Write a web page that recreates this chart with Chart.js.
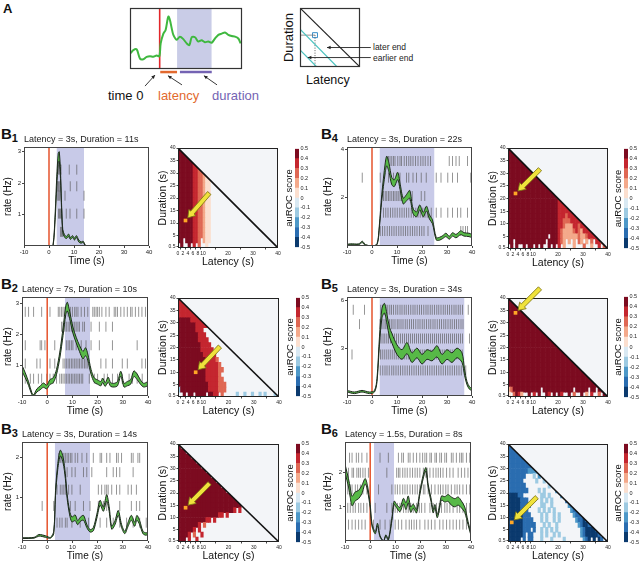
<!DOCTYPE html>
<html><head><meta charset="utf-8">
<script src="https://cdn.jsdelivr.net/npm/chart.js@4.4.1/dist/chart.umd.min.js"></script>
<style>
body{margin:0;background:#fff;width:640px;height:564px;position:relative;overflow:hidden;font-family:"Liberation Sans",Arial,sans-serif;color:#111}
canvas{position:absolute}
.lbl{position:absolute;font-weight:bold;font-size:15px;line-height:1;white-space:nowrap}
.lbl span{font-size:11px;position:relative;top:3px}
.t{position:absolute;white-space:nowrap;line-height:1}
</style></head><body>
<div class="lbl" style="left:3px;top:2px;font-size:13px">A</div>
<div class="t" style="left:108px;top:89px;font-size:13px">time 0</div>
<div class="t" style="left:158px;top:89px;font-size:13px;color:#e2692e">latency</div>
<div class="t" style="left:212px;top:89px;font-size:13px;color:#7463b3">duration</div>
<div class="t" style="left:258px;top:31px;font-size:13px;transform:rotate(-90deg);transform-origin:center;width:60px;text-align:center">Duration</div>
<div class="t" style="left:306px;top:74px;font-size:12.5px">Latency</div>
<div class="t" style="left:373px;top:43px;font-size:8.5px;color:#222">later end</div>
<div class="t" style="left:373px;top:54px;font-size:8.5px;color:#222">earlier end</div>
<div class="lbl" style="left:1px;top:126px">B<span>1</span></div>
<div class="lbl" style="left:1px;top:276px">B<span>2</span></div>
<div class="lbl" style="left:1px;top:421px">B<span>3</span></div>
<div class="lbl" style="left:321px;top:126px">B<span>4</span></div>
<div class="lbl" style="left:321px;top:276px">B<span>5</span></div>
<div class="lbl" style="left:321px;top:421px">B<span>6</span></div>
<script>
const F = "'Liberation Sans', Arial, Helvetica, sans-serif";

// ---------- shared tick labels ----------
const X_TICKS = [-10, 0, 10, 20, 30, 40];
const LAT_TICKS = [0, 2, 4, 6, 8, 10, 20, 30, 40];
const DUR_TICKS = [0.5, 5, 10, 15, 20, 25, 30, 35, 40];
const CB_TICKS = [-0.5, -0.4, -0.3, -0.2, -0.1, 0, 0.1, 0.2, 0.3, 0.4, 0.5];
const CB_KEYS = ['0','1','2','3','4','5','6','7','8','9'];
const PAL = {'0':'#0b3a6e','1':'#2a6db0','2':'#4d98c8','3':'#9dcae2','4':'#d9e9f3','5':'#fbdfcf','6':'#f4a98a','7':'#df6753','8':'#c4262f','9':'#7c0b20'};
const HEAT_BG = '#f3f5f8';

// ---------- panel A schematic ----------
const schemTime = [0.6,3,6,8.9,11.9,14.9,17.9,20.8,23.8,26.2,27.4,29.8,31.8,34.2,35.7,37.2,38.7,41.7,44.6,47.6,50.6,53,55.1,58,61,63.9,66.9,69.9,72.9,75.9,78.9,81.9,84.8,87.8,90.8,93.8,96.7,98.8];
const schemRate = [0.26,0.31,0.32,0.17,0.16,0.2,0.21,0.2,0.22,0.21,0.42,0.58,0.64,0.86,0.8,0.67,0.56,0.48,0.53,0.49,0.42,0.39,0.52,0.52,0.45,0.47,0.44,0.45,0.43,0.5,0.56,0.58,0.6,0.56,0.54,0.53,0.5,0.42];
const schemOnset = 26.5;
const schemLatency = [27, 42];
const schemDuration = [44.6, 73];
const schemArrowFrom = [[13.4,-0.28],[46.4,-0.26],[77.7,-0.26]];
const schemArrowTo = [[22.3,-0.1],[33.9,-0.11],[66,-0.11]];

const gridDiag = [[0,1],[1,0]];
const gridLate = [[0,0.64],[0.62,0]];
const gridEarly = [[0,0.29],[0.28,0]];
const gridPick = [0.25, 0.54];
const gridEndArrows = [[1.18,0.33,0.45,0.33],[1.18,0.16,0.13,0.16]];

// ---------- B1 ----------
const b1Time = [-10,-5,-1,0.5,1.6,2.5,3.1,3.7,4.1,4.6,5.0,5.5,6.2,7.0,7.8,8.6,9.4,10.2,11.0,11.9,12.8,13.7,14.5,15.5,20,30,40];
const b1Rate = [0,0,0,0,0,1.0,2.05,2.8,2.85,2.26,1.3,0.48,0.32,0.27,0.34,0.24,0.3,0.22,0.3,0.16,0.11,0.13,0.02,0,0,0,0];
const b1Sem  = [0,0,0,0,0.02,0.1,0.15,0.15,0.15,0.12,0.08,0.05,0.04,0.03,0.04,0.03,0.03,0.03,0.03,0.03,0.02,0.02,0.01,0,0,0,0];
const b1RowY = [2.43, 1.9, 1.6, 1.03, 0.45];
const b1Spikes = [
  [3.8,4.3,4.8,8.1,11.1],
  [3.3,3.7,4.0,4.4,8.5,11.1],
  [3.5,3.9,4.3,6.4,14.0],
  [3.8,4.2,4.6,5.1,6.9,8.4,11.1,14.0],
  [4.6,5.0,5.4]
];
const b1Heat = [
  ".9..9.8.7..5.",
  "99.999887.655",
  "9999998877655","9999998877655","9999998877655","9999998877655","9999998877655",
  "9999998877655","9999998877655","9999998877655","9999998877655","9999998877655",
  "9999998877655","9999998877655","9999998877655","9999998877655","9999998877655",
  "9999998877655","9999998877655","9999998877655"
];
const b1Pick = [3, 11];
const b1ArrowTail = [12.5, 22];

// ---------- B2 ----------
const b2Time = [-10,-8.7,-7.4,-6.1,-5.4,-4.1,-2.8,-1.5,-0.2,1.1,2.4,3.7,5.0,6.3,7.4,8.0,8.9,10.2,11.5,12.8,14.2,15.2,16.1,17.4,18.7,20.0,21.3,22.0,23.0,24.2,25.2,26.6,27.9,29.2,30.5,31.8,33.1,34.4,35.7,37.0,38.3,40];
const b2Rate = [0.89,0.67,0.4,0.08,0.02,0.18,0.26,0.35,0.29,0.45,0.51,0.78,1.32,2.08,2.78,2.89,2.62,2.13,1.81,1.54,1.32,1.43,1.26,0.78,0.51,0.45,0.4,0.51,0.37,0.53,0.37,0.35,0.4,0.72,0.35,0.4,0.45,0.72,0.62,0.45,0.35,0.4];
const b2Sem  = [0.1,0.08,0.06,0.03,0.02,0.05,0.06,0.07,0.06,0.08,0.08,0.08,0.1,0.12,0.14,0.14,0.12,0.1,0.09,0.1,0.12,0.13,0.1,0.08,0.07,0.07,0.07,0.07,0.06,0.08,0.06,0.06,0.07,0.08,0.06,0.07,0.07,0.09,0.09,0.07,0.06,0.07];
const b2RowY = [2.72, 2.24, 1.64, 1.05, 0.56];
const b2Spikes = [
  [-8.7,-7.4,-5.4,-2.2,1.1,4.4,5.0,5.7,6.3,7.0,8.3,9.2,10.0,10.9,11.5,12.2,13.5,14.8,16.1,18.1,18.7,19.4,20.0,20.7,21.7,23.3,24.6,26.6,27.2,27.9,29.2,30.5,31.8,33.1,33.7,35.0,36.3,37.6,39.0],
  [5.7,6.3,7.0,7.6,8.3,8.9,9.6,10.2,10.9,11.5,12.2,12.8,14.1,14.8,17.4,20.7,23.3,25.9],
  [-8.7,-2.8,-2.2,-0.9,3.0,7.6,8.3,8.9,9.6,10.2,11.5,13.5,15.4,17.4,20.7,25.9,35.7],
  [-8.7,-4.1,-2.8,1.1,3.0,6.3,7.0,7.6,8.3,8.9,9.6,10.2,10.9,11.5,12.2,12.8,13.5,14.1,14.8,15.4,16.1,21.3,23.3,25.9,29.8,31.8,37.6,39.0],
  [-8.7,-6.7,-5.4,-3.5,-2.2,-0.2,1.1,2.4,3.7,5.0,5.7,6.3,7.0,7.6,8.3,8.9,9.6,10.2,10.9,11.5,12.2,12.8,13.5,14.1,16.7,18.7,20.0,22.6,23.9,25.9,27.9,29.8,32.5,33.8,35.7,37.7]
];
const b2Heat = [
  "..9.99.9999.9988.7.....3..3..3..3.3...3.",
  "3999999999998888777",
  "9999999999998888777",
  "999999999998888877",
  "99999999999888887",
  "999999999998888877",
  "99999999999888887",
  "9999999999988887",
  "999999999988888",
  "99999999988888",
  "9999999998888",
  "999999998888",
  "99999999888",
  "9999999888",
  "999999988888",
  "9999988888",
  "88888888",
  "888888",
  "8888",
  "88"
];
const b2Pick = [7, 10];
const b2ArrowTail = [16.6, 20.4];

// ---------- B3 ----------
const b3Time = [-10,-5.2,-3.3,-2,-0.7,1.3,2.6,3.3,4.2,5.2,6.3,7.2,7.9,8.9,9.8,11.1,12.1,13.1,14.4,15.7,17,18.3,19.7,21,22.3,23.6,24.6,25.6,26.9,28.2,29.5,30.8,32.1,33.4,34.7,35.6,36.7,38,39.3,40];
const b3Rate = [0.01,0.02,0.08,0.07,0.05,0.02,0.15,1.12,1.77,2.1,1.93,1.53,1.04,0.63,0.47,0.51,0.39,0.47,0.51,0.31,0.19,0.23,0.55,0.88,0.72,1.0,0.72,0.27,0.39,0.63,0.31,0.15,0.35,0.51,0.35,0.51,0.39,0.15,0.11,0.15];
const b3Sem  = [0.01,0.01,0.02,0.02,0.02,0.01,0.03,0.06,0.07,0.07,0.07,0.06,0.05,0.05,0.06,0.07,0.05,0.05,0.06,0.04,0.03,0.04,0.05,0.06,0.05,0.08,0.06,0.04,0.05,0.06,0.04,0.03,0.05,0.06,0.05,0.06,0.05,0.03,0.03,0.03];
const b3RowY = [1.98, 1.63, 1.2, 0.8, 0.39];
const b3Spikes = [
  [4.6,5.2,5.9,6.6,7.2,7.9,8.5,9.2,9.8,11.1,12.1,13.8,15.7,18.3,21,21.6,23.6,24.9,27.5,28.2,29.5,33.4,34.1,36,36.7],
  [7.9,9.8,11.1,14.4,15.7,17.7,23.6,26.2,27.5,28.8,34.1],
  [3.9,5.2,5.9,6.6,7.2,8.5,9.8,13.1,20.3,21.6,22.9,23.6,24.2,25.6,27.5,28.8,32.1,33.4,35.4],
  [-2,2.6,9.2,11.1,14.4,17,20.3,22.3,23.6,28.8,33.4,35.4,36.7],
  [3.9,5.0,5.9,7.2,7.9,9.8,13.1,16.4,21,23.6,26.2,28.8,31.5,34.1,36.7,39.3]
];
const b3Heat = [
  "999.8..8.....",
  "99998.7..8.......",
  "9999998.8..........",
  "999999998.7............",
  "9999999999988.8...............",
  "999999999999999988.8..........",
  "99999999999999999999998.8.....",
  "9999999999999999999999999","999999999999999999999999","99999999999999999999999",
  "9999999999999999999","99999999999999999","999999999999999","9999999999999",
  "99999999999","999999999","9999999","99999","999","9"
];
const b3Pick = [3, 14];
const b3ArrowTail = [12.5, 24];

// ---------- B4 ----------
const b4Time = [-10,-8.6,-5.3,-3.9,-2.6,0,2,2.9,3.9,5.3,5.9,6.8,7.9,8.9,10.3,11.2,12.5,13.8,15.1,16.4,17.8,19.1,20.5,21.8,23,24.2,25.7,27,28.3,29.6,30.9,32.2,33.6,35.5,36.8,38.8,40];
const b4Rate = [0.05,0.07,0.07,0.17,0.04,0,0.07,0.76,2.0,3.24,3.52,3.24,2.69,2.6,2.9,2.48,1.86,2.0,2.14,1.45,1.31,1.6,1.3,1.55,1.2,1.0,0.3,0.3,0.37,0.46,0.34,0.48,0.41,0.55,0.48,0.46,0.41];
const b4Sem  = [0.02,0.02,0.02,0.03,0.02,0,0.02,0.06,0.12,0.2,0.2,0.18,0.15,0.14,0.15,0.13,0.12,0.13,0.16,0.1,0.1,0.1,0.09,0.1,0.09,0.08,0.05,0.06,0.06,0.07,0.06,0.07,0.07,0.08,0.07,0.07,0.07];
const b4RowY = [3.52, 2.83, 2.07, 1.38, 0.62];
const b4Spikes = [
  [5.9,6.6,7.2,7.9,8.6,9.2,10.3,11.2,11.8,12.9,13.8,14.7,15.5,16.4,17.4,18.4,19.5,20.4,21.3,22.4,23.4,30.9,32.2,33.6,34.9,38.2],
  [-3.9,3.3,6.6,8.6,9.9,11.2,13.8,14.7,16.4,17.8,19.7,21.7,25.7,27.6,30.3,32.2,34.2,39.5],
  [4.6,5.3,5.9,6.6,7.2,7.9,8.6,9.2,9.9,10.5,11.2,11.8,15.1,16.1,19.7,21.1],
  [4.6,5.5,6.4,7.4,8.3,9.2,10.1,11.1,12,12.9,13.8,14.7,15.7,16.6,17.5,18.4,19.3,20.3,21.2,22.1,23.7,25.7,27.6,30.3,32.2,34.2,35.5,38.2],
  [3.3,4.2,5.1,6.1,7,7.9,8.8,9.7,10.7,11.6,12.5,13.4,14.3,15.3,16.2,17.1,18,19,19.9,20.8,22.4,35.5,36.4,37.4,38.2]
];
const b4Heat = [
  ".9.9..9.99.9.9..9.9.8.6...6...7..6..8.7.",
  "99.999999999999.9999876.6.6.76.6.7.8878",
  "9999999999999999.9998766666676678888",
  "9999999999999999999987666678768888",
  "99999999999999999999887666887888",
  "999999999999999999998877788888",
  "9999999999999999999988878888",
  "99999999999999999999888888",
  "999999999999999999998888",
  "9999999999999999999988",
  "99999999999999999999","99999999999999999999","99999999999999999999","99999999999999999999","99999999999999999999",
  "99999999999999999999","99999999999999999999","99999999999999999999","99999999999999999999","99999999999999999999"
];
const b4Pick = [3, 22];
const b4ArrowTail = [12.8, 31.6];

// ---------- B5 ----------
const b5Time = [-10,-7,-4,-1,1,2,3,4,5,6,7,8,10,12,14,16,18,20,22,24,26,28,30,32,34,36,37,38,39,40];
const b5Rate = [0.3,0.2,0.3,0.2,0.3,1.0,3.5,5.2,5.5,4.8,4.0,3.6,2.9,2.6,3.0,2.4,2.7,2.3,2.6,2.5,2.8,2.3,2.6,2.4,2.7,2.4,1.5,0.8,0.5,0.4];
const b5Sem  = [0.05,0.05,0.05,0.05,0.05,0.1,0.25,0.3,0.3,0.3,0.3,0.3,0.3,0.3,0.35,0.3,0.3,0.3,0.3,0.3,0.35,0.3,0.3,0.3,0.3,0.3,0.2,0.1,0.08,0.07];
const b5RowY = [5.4, 4.5, 3.6, 2.6, 1.6];
const b5Spikes = [
  [-7.5,-3,3.5,4.2,5,5.6,6.3,7.1,7.8,8.6,9.5,10.3,11.2,12,12.9,13.7,14.6,15.5,16.4,17.2,18.1,19,19.8,20.7,21.6,22.4,23.3,24.1,25,25.9,26.7,27.6,28.5,29.3,30.2,31,31.9,32.8,33.6,34.5,35.3,36.2,38.5],
  [-5,3.2,4,4.8,5.5,6.1,7,7.7,8.4,9.2,10.1,10.8,11.6,12.4,13.3,14.1,15,15.8,16.6,17.5,18.4,19.2,20.1,20.9,21.8,22.7,23.5,24.4,25.2,26.1,27,27.8,28.7,29.5,30.4,31.3,32.1,33,33.8,34.7,35.6,36.4],
  [3.6,4.4,5.1,5.9,6.6,7.4,8.2,9,9.8,10.6,11.4,12.2,13,13.8,14.6,15.4,16.2,17,17.8,18.6,19.4,20.2,21,21.8,22.6,23.4,24.2,25,25.8,26.6,27.4,28.2,29,29.8,30.6,31.4,32.2,33,33.8,34.6,35.4,36.2,39],
  [-8,3.4,4.1,4.9,5.7,6.5,7.3,8.1,8.9,9.7,10.5,11.3,12.1,12.9,13.7,14.5,15.3,16.1,16.9,17.7,18.5,19.3,20.1,20.9,21.7,22.5,23.3,24.1,24.9,25.7,26.5,27.3,28.1,28.9,29.7,30.5,31.3,32.1,32.9,33.7,34.5,35.3,36.1],
  [3.3,4.3,5.2,6,6.9,7.9,8.7,9.6,10.5,11.4,12.3,13.2,14.1,15,15.9,16.8,17.7,18.6,19.5,20.4,21.3,22.2,23.1,24,24.9,25.8,26.7,27.6,28.5,29.4,30.3,31.2,32.1,33,33.9,34.8,35.7,37.5]
];
const b5Heat = [
  "5.7986..9.8.9..98.9.98..9.7..9.6.8..7.9.",
  "6799999999999.999999999999.99999.99.999",
  "999999999999999999999999999999999999","999999999999999999999999999999999999",
  "999999999999999999999999999999999999","999999999999999999999999999999999999",
  "999999999999999999999999999999999999","999999999999999999999999999999999999",
  "999999999999999999999999999999999999","999999999999999999999999999999999999",
  "999999999999999999999999999999999999","999999999999999999999999999999999999",
  "999999999999999999999999999999999999","999999999999999999999999999999999999",
  "999999999999999999999999999999999999","999999999999999999999999999999999999",
  "999999999999999999999999999999999999","999999999999999999999999999999999999",
  "999999999999999999999999999999999999","999999999999999999999999999999999999"
];
const b5Pick = [3, 34];
const b5ArrowTail = [12.8, 43.9];

// ---------- B6 ----------
const b6Time = [-9.9,-8.6,-7.9,-7.2,-5.9,-4.6,-3.3,-2,-1.1,0,0.7,2,2.9,3.9,5.3,6.2,7.2,8.6,9.5,10.5,11.8,13.2,14.2,15.1,16.1,17.1,18.4,19.7,21.1,22.1,23,24.1,25,25.7,26.6,27.6,28.3,29.6,30.9,32.2,33.6,34.9,36.2,37.5,38.8,40];
const b6Rate = [2.1,1.7,1.41,1.17,1.31,1.36,1.51,1.75,1.56,1.02,0.48,0.24,0.48,0.14,0,0.16,0.04,0.63,1.12,1.02,0.92,1.17,1.02,1.22,0.92,1.02,0.87,1.41,1.9,2.1,1.61,1.22,0.87,1.02,0.73,1.02,1.26,1.22,1.26,1.17,1.12,1.17,1.07,0.92,0.53,0.19];
const b6Sem  = [0.12,0.12,0.14,0.14,0.13,0.12,0.12,0.08,0.07,0.05,0.04,0.03,0.04,0.02,0,0.02,0.02,0.04,0.05,0.05,0.06,0.08,0.1,0.1,0.08,0.06,0.05,0.05,0.05,0.05,0.05,0.05,0.05,0.05,0.05,0.05,0.06,0.08,0.1,0.12,0.12,0.12,0.1,0.08,0.05,0.03];
const b6RowY = [2.44, 2.0, 1.51, 0.97, 0.48];
const b6Spikes = [
  [-8.2,-7.2,-5.5,-4.6,-3.3,-1.3,3.9,7.2,11.2,12.5,13.2,15.1,15.8,17.1,18.4,19.7,20.8,21.7,22.4,23.7,24.3,25.7,26.3,27.6,28.3,29.6,30.3,32.2,32.9,34.2,35.5,36.2,36.8,38.2,39.5],
  [-8.6,-7.2,-6.6,-5.3,-4.6,-3.9,-2.9,-2,-0.7,6.6,10.5,11.2,11.8,12.9,13.8,14.7,15.8,16.8,17.8,18.7,19.7,21.1,22.1,22.6,23.7,25,26.1,27,27.9,28.9,30.3,31.6,32.9,34.9,36.2,37.5,38.8],
  [-8.9,-7.9,-7.2,-5.9,-5,-3.9,-2.9,-1.3,0,3.3,8.6,9.9,10.8,11.8,12.9,13.8,14.7,15.8,16.8,17.8,18.7,19.7,21.1,21.7,23,24.3,25.7,27,27.9,28.9,30,30.9,32.2,33.6,34.5,35.5,36.8,38.2,39.5],
  [-8.9,-7.9,-6.8,-5.9,-4.6,-3.7,-2.6,-1.3,2,6.6,8.6,9.9,10.8,11.8,13.2,14.2,15.1,16.1,17.1,18.4,19.5,20.4,21.7,23.7,25,26.3,27.4,28.3,29.6,30.5,31.6,32.9,34.5,35.5,36.8,38.2,39.5],
  [-8.6,-7.2,-5.9,-4.6,-3.3,-2,1.3,3.9,5.9,7.9,9.9,11.2,12.5,14.2,15.5,16.4,17.4,18.4,19.7,21.7,23,24.3,25.7,27.6,28.9,30.3,31.6,32.9,34.2,35.5,36.8,38.2]
];
const b6Heat = [
  "00000.1.11...3...3....3.......210.0.01.1",
  "0000001.11...3.3..3.3........21000001",
  "000000111.1..3.3.3.3.........2100001",
  "00000011111...3.3..3........210011",
  "0000001111...3.3..3.3......21101",
  "000000111....3.3..3.3.....2111",
  "00000111....3.3.3.3......211",
  "000001111....33..3......21",
  "00000111.....3.3.3.....1",
  "000011.......33.3....2",
  "11111111....3.3....2",
  "1111111.........3.",
  "111111.....3..3.",
  "1111111...3.2.",
  "111111112222",
  "1111111111",
  "11111111",
  "111111",
  "1111",
  "11"
];
const b6Pick = [1.5, 8];
const b6ArrowTail = [11.5, 18.3];

// ---------- helpers ----------
function mk(left, top, w, h) {
  const c = document.createElement('canvas');
  c.width = w; c.height = h;
  c.style.left = left + 'px'; c.style.top = top + 'px';
  c.style.width = w + 'px'; c.style.height = h + 'px';
  document.body.appendChild(c);
  return c;
}
const framePlugin = {
  id: 'frame',
  afterDatasetsDraw(chart, args, opts) {
    if (!opts || !opts.on) return;
    const a = chart.chartArea, ctx = chart.ctx;
    ctx.save();
    ctx.strokeStyle = opts.color || '#333';
    ctx.lineWidth = opts.width || 1;
    ctx.strokeRect(a.left + 0.5, a.top + 0.5, a.right - a.left - 1, a.bottom - a.top - 1);
    ctx.restore();
  }
};
function arrowHead(ctx, x1, y1, x2, y2, size) {
  const ang = Math.atan2(y2 - y1, x2 - x1);
  ctx.beginPath();
  ctx.moveTo(x2, y2);
  ctx.lineTo(x2 - size * Math.cos(ang - 0.45), y2 - size * Math.sin(ang - 0.45));
  ctx.lineTo(x2 - size * Math.cos(ang + 0.45), y2 - size * Math.sin(ang + 0.45));
  ctx.closePath();
  ctx.fill();
}
function fatArrow(ctx, x1, y1, x2, y2) {
  const ang = Math.atan2(y2 - y1, x2 - x1);
  const len = Math.hypot(x2 - x1, y2 - y1);
  const hw = 2.2, hl = 7, hh = 4.6;
  ctx.save();
  ctx.translate(x1, y1); ctx.rotate(ang);
  ctx.beginPath();
  ctx.moveTo(0, -hw); ctx.lineTo(len - hl, -hw); ctx.lineTo(len - hl, -hh); ctx.lineTo(len, 0);
  ctx.lineTo(len - hl, hh); ctx.lineTo(len - hl, hw); ctx.lineTo(0, hw); ctx.closePath();
  ctx.fillStyle = '#efe23c'; ctx.strokeStyle = '#7d7414'; ctx.lineWidth = 0.8;
  ctx.fill(); ctx.stroke();
  ctx.restore();
}
const baseOpts = { responsive: false, animation: false, devicePixelRatio: 1, events: [] };
const pts = arr => arr.map(p => ({x: p[0], y: p[1]}));

// ---------- rate chart ----------
function rateChart(p) {
  const top = p.boxT - 13, H = p.boxB - p.boxT;
  const c = mk(p.canvasL, top, p.boxR - p.canvasL + 5, Math.round(13 + H + 21));
  const ds = [];
  ds.push({type:'line', data:[{x:p.lat, y:p.ymax},{x:p.lat + p.dur, y:p.ymax}], fill:'start', backgroundColor:'#c8cae8', borderWidth:0, pointRadius:0, order:20});
  p.spikes.forEach((row, i) => ds.push({type:'scatter', data: row.map(t => ({x:t, y:p.rows[i]})), pointStyle:'line', rotation:90, pointRotation:90, pointRadius:5, borderColor:'rgba(85,85,85,0.62)', pointBorderColor:'rgba(85,85,85,0.62)', borderWidth:1, pointBorderWidth:1, order:15}));
  ds.push({type:'line', data:[{x:0, y:p.ymin},{x:0, y:p.ymax}], borderColor:'#e5532c', borderWidth:1.5, pointRadius:0, order:12});
  const up = p.t.map((t, i) => ({x:t, y:p.v[i] + p.s[i]}));
  const lo = p.t.map((t, i) => ({x:t, y:Math.max(p.ymin, p.v[i] - p.s[i])}));
  ds.push({type:'line', data:up, borderColor:'#1e2a1e', borderWidth:1, pointRadius:0, tension:0.3, fill:false, order:9});
  ds.push({type:'line', data:lo, borderColor:'#1e2a1e', borderWidth:1, pointRadius:0, tension:0.3, fill:'-1', backgroundColor:'#57b947', order:10});
  new Chart(c, {
    data: {datasets: ds},
    plugins: [framePlugin],
    options: Object.assign({}, baseOpts, {
      layout: {padding: {top:0, left:0, right:5, bottom:0}},
      scales: {
        x: {type:'linear', min:-10, max:40,
            afterBuildTicks: s => { s.ticks = X_TICKS.map(v => ({value:v})); },
            afterFit: s => { s.height = 21; },
            ticks: {font:{size:6, family:F}, color:'#222', padding:1, maxRotation:0, autoSkip:false},
            grid: {display:true, drawOnChartArea:false, tickLength:2, color:'#444'},
            border: {display:false},
            title: {display:true, text:'Time (s)', font:{size:10, family:F}, color:'#111', padding:0}},
        y: {type:'linear', min:p.ymin, max:p.ymax,
            afterBuildTicks: s => { s.ticks = p.yticks.map(v => ({value:v})); },
            afterFit: s => { s.width = p.boxL - p.canvasL; },
            ticks: {font:{size:6, family:F}, color:'#222', padding:1},
            grid: {display:true, drawOnChartArea:false, tickLength:2, color:'#444'},
            border: {display:false},
            title: {display:true, text:'rate (Hz)', font:{size:10, family:F}, color:'#111', padding:0}}
      },
      plugins: {
        legend: {display:false}, tooltip: {enabled:false},
        title: {display:true, text:p.title, align:'start', fullSize:false, font:{size:9, family:F, weight:'normal'}, color:'#222', padding:{top:0, bottom:2.2}},
        frame: {on:true, color:'#444', width:1}
      }
    })
  });
}

// ---------- heat chart ----------
const heatPlugin = {
  id: 'heat',
  beforeDatasetsDraw(chart) {
    const a = chart.chartArea, ctx = chart.ctx;
    ctx.save(); ctx.fillStyle = HEAT_BG; ctx.fillRect(a.left, a.top, a.right - a.left, a.bottom - a.top); ctx.restore();
  },
  beforeDatasetDraw(chart, args) {
    if (args.meta.type !== 'bar') return;
    const x = chart.scales.x, y = chart.scales.y, ctx = chart.ctx;
    ctx.save();
    ctx.beginPath();
    ctx.moveTo(x.getPixelForValue(0), y.getPixelForValue(0));
    ctx.lineTo(x.getPixelForValue(40), y.getPixelForValue(0));
    ctx.lineTo(x.getPixelForValue(0), y.getPixelForValue(40));
    ctx.closePath();
    ctx.clip();
  },
  afterDatasetDraw(chart, args) {
    if (args.meta.type !== 'bar') return;
    chart.ctx.restore();
  },
  afterDraw(chart, args, opts) {
    const x = chart.scales.x, y = chart.scales.y;
    const px = x.getPixelForValue(opts.pick[0]), py = y.getPixelForValue(opts.pick[1]);
    const tx = x.getPixelForValue(opts.tail[0]), ty = y.getPixelForValue(opts.tail[1]);
    const d = Math.hypot(tx - px, ty - py);
    const hx = px + (tx - px) * 3.5 / d, hy = py + (ty - py) * 3.5 / d;
    fatArrow(chart.ctx, tx, ty, hx, hy);
  }
};
function heatChart(p) {
  const W = p.boxR - p.boxL, H = p.boxB - p.boxT;
  const c = mk(p.boxL - 21, p.boxT - 30, 21 + W + 5, 30 + H + 20);
  const ds = [];
  p.grid.forEach((row, r) => {
    const cells = [];
    for (let i = 0; i < row.length && i < 40 - 2 * r; i++) {
      const ch = row[i];
      if (ch !== '.') cells.push({x: i + 0.5, y: [2 * r, 2 * r + 2], c: ch});
    }
    ds.push({type:'bar', data:cells, backgroundColor: ctx => (ctx.raw ? PAL[ctx.raw.c] : '#000'), borderWidth:0, grouped:false, barPercentage:1, categoryPercentage:1, order:20});
  });
  ds.push({type:'line', data:[{x:0, y:40},{x:40, y:0}], borderColor:'#111', borderWidth:1.6, pointRadius:0, order:5});
  ds.push({type:'scatter', data:[{x:p.pick[0], y:p.pick[1]}], pointStyle:'rect', pointRadius:2.6, backgroundColor:'#ffa726', borderWidth:0, order:2});
  new Chart(c, {
    type: 'bar',
    data: {datasets: ds},
    plugins: [heatPlugin, framePlugin],
    options: Object.assign({}, baseOpts, {
      layout: {padding: {top:30, left:0, right:5, bottom:0}},
      scales: {
        x: {type:'linear', min:0, max:40, offset:false,
            afterBuildTicks: s => { s.ticks = LAT_TICKS.map(v => ({value:v})); },
            afterFit: s => { s.height = 20; },
            ticks: {font:{size:5, family:F}, color:'#222', padding:1, maxRotation:0, autoSkip:false},
            grid: {display:true, drawOnChartArea:false, tickLength:1.5, color:'#444'},
            border: {display:false},
            title: {display:true, text:'Latency (s)', font:{size:10.5, family:F}, color:'#111', padding:0}},
        y: {type:'linear', min:0, max:40,
            afterBuildTicks: s => { s.ticks = DUR_TICKS.map(v => ({value:v})); },
            afterFit: s => { s.width = 21; },
            ticks: {font:{size:5, family:F}, color:'#222', padding:1, autoSkip:false},
            grid: {display:true, drawOnChartArea:false, tickLength:1.5, color:'#444'},
            border: {display:false},
            title: {display:true, text:'Duration (s)', font:{size:10.5, family:F}, color:'#111', padding:0}}
      },
      plugins: {
        legend: {display:false}, tooltip: {enabled:false},
        frame: {on:true, color:'#222', width:1},
        heat: {pick:p.pick, tail:p.tail}
      }
    })
  });
}

// ---------- colorbar ----------
function colorbar(p) {
  const H = p.boxB - p.boxT;
  const c = mk(p.barL - 11, p.boxT - 4, 11 + 4 + 15, H + 8);
  const ds = CB_KEYS.map((k, i) => ({data:[[CB_TICKS[i], CB_TICKS[i + 1]]], backgroundColor:PAL[k], borderWidth:0, grouped:false, barPercentage:1, categoryPercentage:1, yAxisID:'y'}));
  new Chart(c, {
    type: 'bar',
    data: {labels:['auROC'], datasets: ds},
    options: Object.assign({}, baseOpts, {
      layout: {padding: {top:4, bottom:4, left:0, right:0}},
      scales: {
        x: {display:false},
        y: {position:'right', min:-0.5, max:0.5,
            afterBuildTicks: s => { s.ticks = CB_TICKS.map(v => ({value:v})); },
            afterFit: s => { s.width = 15; },
            ticks: {font:{size:5.5, family:F}, color:'#222', padding:1.5, callback: v => (Math.round(v * 10) / 10).toString()},
            grid: {display:false, drawTicks:false, tickLength:0}, border: {display:false}},
        yl: {position:'left', min:0, max:1,
            afterFit: s => { s.width = 11; },
            ticks: {display:false}, grid: {display:false, drawTicks:false, tickLength:0}, border: {display:false},
            title: {display:true, text:'auROC score', font:{size:9.5, family:F}, color:'#111', padding:0}}
      },
      plugins: {legend: {display:false}, tooltip: {enabled:false}}
    })
  });
}

// ---------- panel A charts ----------
const schemPlugin = {
  id: 'schem',
  afterDraw(chart, args, opts) {
    const ctx = chart.ctx, x = chart.scales.x, y = chart.scales.y;
    ctx.save();
    ctx.strokeStyle = '#222'; ctx.fillStyle = '#222'; ctx.lineWidth = 0.9;
    opts.arrows.forEach(a => {
      const x1 = x.getPixelForValue(a[0]), y1 = y.getPixelForValue(a[1]);
      const x2 = x.getPixelForValue(a[2]), y2 = y.getPixelForValue(a[3]);
      ctx.beginPath(); ctx.moveTo(x1, y1); ctx.lineTo(x2, y2); ctx.stroke();
      arrowHead(ctx, x1, y1, x2, y2, 4);
    });
    ctx.restore();
  }
};
(function () {
  const c = mk(100, 0, 180, 110);
  new Chart(c, {
    data: {datasets: [
      {type:'line', data:[{x:schemLatency[1], y:1},{x:schemDuration[1], y:1}], fill:'start', backgroundColor:'#c9cce7', borderWidth:0, pointRadius:0, order:20},
      {type:'line', data:[{x:schemOnset, y:0},{x:schemOnset, y:1}], borderColor:'#e2262a', borderWidth:1.6, pointRadius:0, order:10},
      {type:'line', data: schemTime.map((t, i) => ({x:t, y:schemRate[i]})), borderColor:'#3fb83f', borderWidth:2, pointRadius:0, tension:0.3, order:5},
      {type:'line', data:[{x:schemLatency[0], y:-0.05},{x:schemLatency[1], y:-0.05}], borderColor:'#e2692e', borderWidth:2.5, pointRadius:0, clip:false, order:5},
      {type:'line', data:[{x:schemDuration[0], y:-0.05},{x:schemDuration[1], y:-0.05}], borderColor:'#7463b3', borderWidth:2.5, pointRadius:0, clip:false, order:5}
    ]},
    plugins: [framePlugin, schemPlugin],
    options: Object.assign({}, baseOpts, {
      layout: {padding: {left:30, right:38, top:8, bottom:41}},
      scales: {x:{type:'linear', min:0, max:100, display:false}, y:{type:'linear', min:0, max:1, display:false}},
      plugins: {legend:{display:false}, tooltip:{enabled:false},
        frame:{on:true, color:'#333', width:1.2},
        schem:{arrows: schemArrowFrom.map((f, i) => [f[0], f[1], schemArrowTo[i][0], schemArrowTo[i][1]])}}
    })
  });
  const c2 = mk(280, 0, 110, 110);
  new Chart(c2, {
    data: {datasets: [
      {type:'line', data:pts(gridDiag), borderColor:'#222', borderWidth:1.2, pointRadius:0},
      {type:'line', data:pts(gridLate), borderColor:'#4cc3c0', borderWidth:1.2, pointRadius:0},
      {type:'line', data:pts(gridEarly), borderColor:'#4cc3c0', borderWidth:1.2, pointRadius:0},
      {type:'line', data:[{x:0, y:gridPick[1]},{x:gridPick[0], y:gridPick[1]}], borderColor:'#777', borderWidth:0.8, pointRadius:0},
      {type:'line', data:[{x:gridPick[0], y:gridPick[1]},{x:gridPick[0], y:0}], borderColor:'#333', borderWidth:0.8, borderDash:[1,1.5], pointRadius:0},
      {type:'scatter', data:[{x:gridPick[0], y:gridPick[1]}], pointStyle:'rect', pointRadius:3.5, backgroundColor:'#ffffff', borderColor:'#3a8fc8', borderWidth:1}
    ]},
    plugins: [framePlugin, schemPlugin],
    options: Object.assign({}, baseOpts, {
      layout: {padding: {left:20, right:30, top:8, bottom:43}},
      scales: {x:{type:'linear', min:0, max:1, display:false}, y:{type:'linear', min:0, max:1, display:false}},
      plugins: {legend:{display:false}, tooltip:{enabled:false},
        frame:{on:true, color:'#333', width:1.2},
        schem:{arrows: gridEndArrows}}
    })
  });
})();

// ---------- B panels ----------
rateChart({canvasL:2, boxL:24, boxR:150, boxT:147, boxB:246, lat:3, dur:11, ymin:0, ymax:3.15, yticks:[1,2,3], t:b1Time, v:b1Rate, s:b1Sem, rows:b1RowY, spikes:b1Spikes, title:'Latency = 3s, Duration = 11s'});
heatChart({boxL:178, boxR:278, boxT:148, boxB:248, grid:b1Heat, pick:b1Pick, tail:b1ArrowTail});
colorbar({barL:295, boxT:148, boxB:248});

rateChart({canvasL:2, boxL:22, boxR:149, boxT:297, boxB:396, lat:7, dur:10, ymin:0, ymax:3.2, yticks:[1,2,3], t:b2Time, v:b2Rate, s:b2Sem, rows:b2RowY, spikes:b2Spikes, title:'Latency = 7s, Duration = 10s'});
heatChart({boxL:178, boxR:279, boxT:298, boxB:397, grid:b2Heat, pick:b2Pick, tail:b2ArrowTail});
colorbar({barL:296, boxT:297, boxB:397});

rateChart({canvasL:2, boxL:22, boxR:149, boxT:442, boxB:541, lat:3, dur:14, ymin:-0.06, ymax:2.37, yticks:[1,2], t:b3Time, v:b3Rate, s:b3Sem, rows:b3RowY, spikes:b3Spikes, title:'Latency = 3s, Duration = 14s'});
heatChart({boxL:178, boxR:279, boxT:444, boxB:542, grid:b3Heat, pick:b3Pick, tail:b3ArrowTail});
colorbar({barL:296, boxT:443, boxB:543});

rateChart({canvasL:322, boxL:347, boxR:473, boxT:147, boxB:246, lat:3, dur:22, ymin:0, ymax:4.1, yticks:[2,4], t:b4Time, v:b4Rate, s:b4Sem, rows:b4RowY, spikes:b4Spikes, title:'Latency = 3s, Duration = 22s'});
heatChart({boxL:508, boxR:608, boxT:148, boxB:249, grid:b4Heat, pick:b4Pick, tail:b4ArrowTail});
colorbar({barL:624, boxT:148, boxB:249});

rateChart({canvasL:322, boxL:347, boxR:473, boxT:297, boxB:396, lat:3, dur:34, ymin:0, ymax:6.2, yticks:[3,6], t:b5Time, v:b5Rate, s:b5Sem, rows:b5RowY, spikes:b5Spikes, title:'Latency = 3s, Duration = 34s'});
heatChart({boxL:508, boxR:608, boxT:298, boxB:397, grid:b5Heat, pick:b5Pick, tail:b5ArrowTail});
colorbar({barL:624, boxT:296, boxB:398});

rateChart({canvasL:322, boxL:345, boxR:472, boxT:442, boxB:541, lat:1.5, dur:8, ymin:0, ymax:2.9, yticks:[1,2], t:b6Time, v:b6Rate, s:b6Sem, rows:b6RowY, spikes:b6Spikes, title:'Latency = 1.5s, Duration = 8s'});
heatChart({boxL:508, boxR:608, boxT:444, boxB:542, grid:b6Heat, pick:b6Pick, tail:b6ArrowTail});
colorbar({barL:624, boxT:443, boxB:543});
</script>
</body></html>
